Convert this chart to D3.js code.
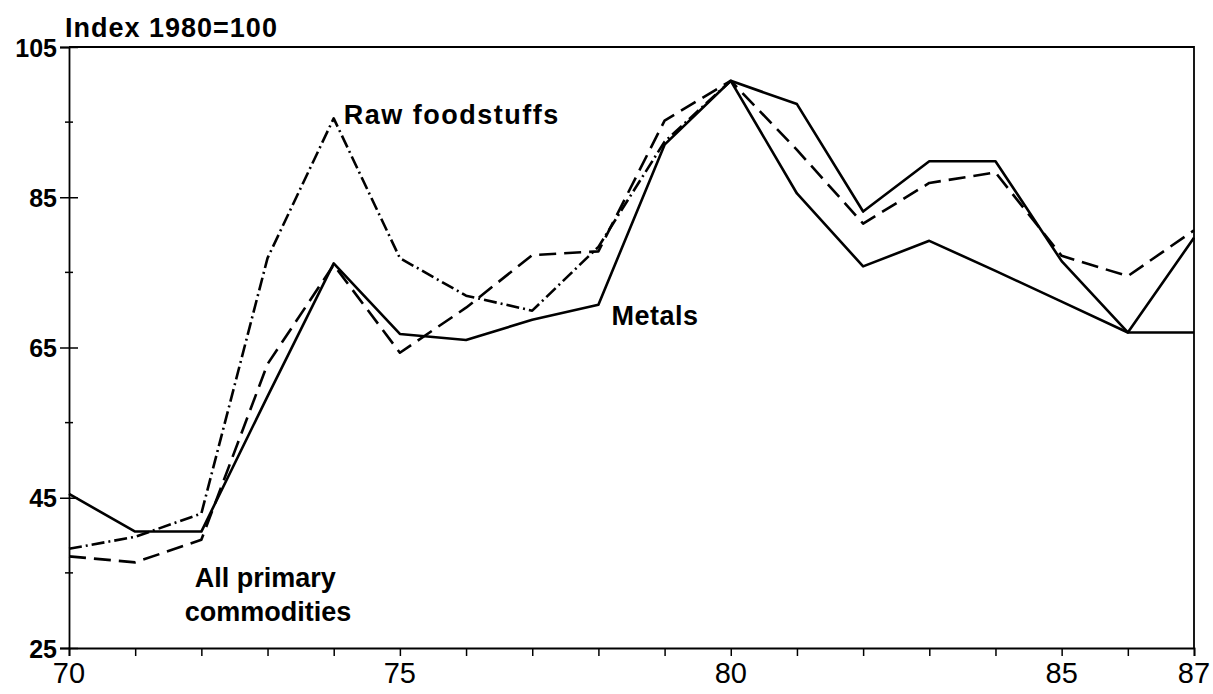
<!DOCTYPE html>
<html>
<head>
<meta charset="utf-8">
<script src="https://cdn.jsdelivr.net/npm/d3@7"></script>
<style>
    body { margin: 0; background: #fff; }
    svg { display: block; font-family: "Liberation Sans", Arial, sans-serif; }
</style>
</head>
<body>
<div class="chart"></div>
<script>
// years 1970..1987, index 1980=100
const years = [70, 71, 72, 73, 74, 75, 76, 77, 78, 79, 80, 81, 82, 83, 84, 85, 86, 87];
const metals = [45.5, 40.5, 40.5, 58.5, 76.2, 66.8, 66.0, 68.7, 70.7, 92.0, 100.5, 85.5, 75.8, 79.2, 75.2, 71.1, 67.0, 67.0];
const rawFood = [38.2, 39.8, 42.9, 76.9, 95.5, 76.9, 71.9, 69.9, 78.4, 92.4, 100.5, 97.4, 83.1, 89.8, 89.8, 76.5, 67.0, 79.6];
const allPrimary = [37.2, 36.4, 39.4, 62.8, 76.0, 64.3, 70.3, 77.3, 77.8, 95.2, 100.5, 91.3, 81.5, 86.9, 88.3, 77.2, 74.5, 80.6];
const yLabels = [25, 45, 65, 85, 105];
const yMinor = [35, 55, 75, 95];
const xLabels = [70, 75, 80, 85, 87];

const width = 1213, height = 694;
const margin = {top: 47, right: 19, bottom: 46, left: 69};

const svg = d3.select(".chart").append("svg")
    .attr("width", width).attr("height", height);

const x = d3.scaleLinear().domain([70, 87]).range([margin.left, width - margin.right]);
const y = d3.scaleLinear().domain([25, 105]).range([height - margin.bottom, margin.top]);

// frame: top and right borders
svg.append("path")
    .attr("d", "M" + x(70) + "," + y(105) + "H" + x(87) + "V" + y(25))
    .attr("fill", "none").attr("stroke", "#000").attr("stroke-width", 1.8);

// left axis
const yAxis = svg.append("g")
    .attr("transform", "translate(" + x(70) + ",0)")
    .call(d3.axisLeft(y).tickValues(yLabels).tickSize(9).tickFormat(d3.format("d")));
yAxis.select(".domain").attr("stroke-width", 1.8);
yAxis.selectAll(".tick line").attr("x2", 9).attr("x1", -9).attr("stroke-width", 1.5);
yAxis.selectAll(".tick text")
    .attr("x", -12).attr("dy", "0.36em")
    .attr("font-size", 25).attr("font-weight", "bold")
    .attr("font-family", "'Liberation Sans', Arial, sans-serif");
yAxis.append("g").selectAll("line").data(yMinor).enter().append("line")
    .attr("x1", -4).attr("x2", 4)
    .attr("y1", d => y(d)).attr("y2", d => y(d))
    .attr("stroke", "#000").attr("stroke-width", 1.5);

// bottom axis
const xAxis = svg.append("g")
    .attr("transform", "translate(0," + y(25) + ")")
    .call(d3.axisBottom(x).tickValues(years).tickSize(8).tickFormat(""));
xAxis.select(".domain").attr("stroke-width", 1.8);
xAxis.selectAll(".tick line").attr("stroke-width", 1.5);
xAxis.selectAll(".xlab").data(xLabels).enter().append("text")
    .attr("class", "xlab")
    .attr("x", d => x(d)).attr("y", 35)
    .attr("text-anchor", "middle")
    .attr("font-size", 29)
    .attr("fill", "#000")
    .text(d => d);

// lines
const line = d3.line().x(d => x(d[0])).y(d => y(d[1]));
const zip = arr => years.map((yr, i) => [yr, arr[i]]);

function drawLine(pts, dash) {
    svg.append("path")
        .datum(pts)
        .attr("fill", "none")
        .attr("stroke", "#000")
        .attr("stroke-width", 2.6)
        .attr("stroke-linejoin", "round")
        .attr("stroke-dasharray", dash)
        .attr("d", line);
}

const i80 = years.indexOf(80);
// raw foodstuffs: dash-dot until 1980, printed solid afterwards
drawLine(zip(rawFood).slice(0, i80 + 1), "13,4,2,4");
drawLine(zip(rawFood).slice(i80), null);
drawLine(zip(allPrimary), "17,8");
drawLine(zip(metals), null);

// annotations
function label(txt, xv, yv, dx, dy, spacing) {
    svg.append("text")
        .attr("x", x(xv) + dx).attr("y", y(yv) + dy)
        .attr("font-size", 27).attr("font-weight", "bold")
        .attr("letter-spacing", spacing || 0)
        .attr("fill", "#000")
        .text(txt);
}
svg.append("text")
    .attr("x", x(70) - 4).attr("y", y(105) - 10)
    .attr("font-size", 27).attr("font-weight", "bold")
    .attr("letter-spacing", 1)
    .text("Index 1980=100");
label("Raw foodstuffs", 74, 95.5, 10, 6, 1.5);
label("Metals", 78, 70.7, 13, 20, 0.5);
label("All primary", 71.9, 36.4, 0, 25);
label("commodities", 71.75, 36.4, 0, 59);
</script>
</body>
</html>
